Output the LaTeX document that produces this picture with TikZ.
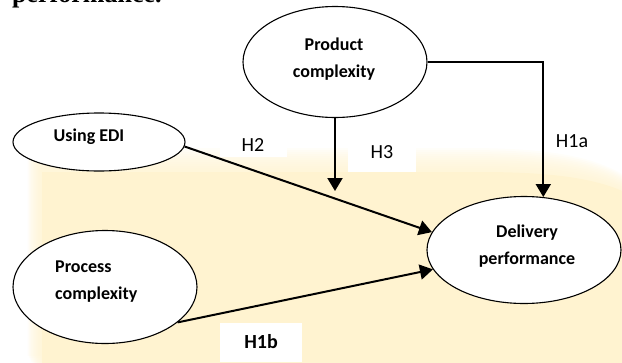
\documentclass[tikz,border=0pt]{standalone}
\usepackage{fontspec}
\setmainfont{Carlito}
\newfontfamily\titlefont{Liberation Serif}
\usepackage{xcolor}
\usetikzlibrary{shapes,arrows,arrows.meta,positioning,calc}
\definecolor{cream}{RGB}{255,243,208}

\begin{document}
\begin{tikzpicture}[
    x=1pt, y=-1pt,
    construct/.style={ellipse, draw, line width=1.1pt, fill=white, inner sep=0pt},
    ctext/.style={font=\fontsize{18}{27}\selectfont\bfseries, inner sep=0pt},
    hyp/.style={fill=white, inner sep=0pt, font=\fontsize{20}{24}\selectfont},
    link/.style={line width=2pt, -{Triangle[length=13pt,width=15pt]}}
]
    \useasboundingbox (0,0) rectangle (622,362);

    % Background (soft edged)
    \foreach \d in {2,4,...,24}
        \fill[cream, opacity=0.12, shift={(-0.6*\d,-\d)}] (42,172) -- (480,172) .. controls (570,172) and (610,182) .. (640,200) -- (640,380) -- (42,380) -- cycle;
    \fill[cream] (42,172) -- (480,172) .. controls (570,172) and (610,182) .. (640,200) -- (640,380) -- (42,380) -- cycle;

    % Heading (cut off)
    \node[font=\titlefont\bfseries\fontsize{26}{30}\selectfont, anchor=base west, inner sep=0pt] (title) at (12,2) {performance.};

    % Constructs
    \node[construct, minimum width=184pt, minimum height=111pt] (prod) at (335,62) {};
    \node[construct, minimum width=172pt, minimum height=58pt] (edi) at (99,142) {};
    \node[construct, minimum width=184pt, minimum height=113pt] (proc) at (105,287) {};
    \node[construct, minimum width=194pt, minimum height=107pt] (deliv) at (524,250) {};

    \node[ctext, align=center] (prodtxt) at (334,59) {Product\\complexity};
    \node[ctext, anchor=base] (editxt) at (89,141) {Using EDI};
    \node[ctext, align=left, anchor=west] (proctxt) at (55,282) {Process\\complexity};
    \node[ctext, align=center] (delivtxt) at (527,246) {Delivery\\performance};

    % Hypotheses
    \node[hyp, minimum width=67pt, minimum height=24pt] (h2) at (253,145) {H2};
    \node[hyp, minimum width=68pt, minimum height=39pt] (h3) at (382,152) {H3};
    \node[hyp, anchor=base] (h1a) at (572,147) {H1a};
    \node[hyp, font=\fontsize{20}{24}\selectfont\bfseries, minimum width=82pt, minimum height=39pt] (h1b) at (261,342) {H1b};

    % Paths
    \coordinate (h3tip) at (335,191);
    \draw[link] (edi.-3) -- (deliv.169);
    \draw[link] (proc.-26) -- (deliv.192);
    \draw[link] (prod.south) -- (h3tip);
    \draw[link] (prod.east) -| (deliv.70);
\end{tikzpicture}
\end{document}
